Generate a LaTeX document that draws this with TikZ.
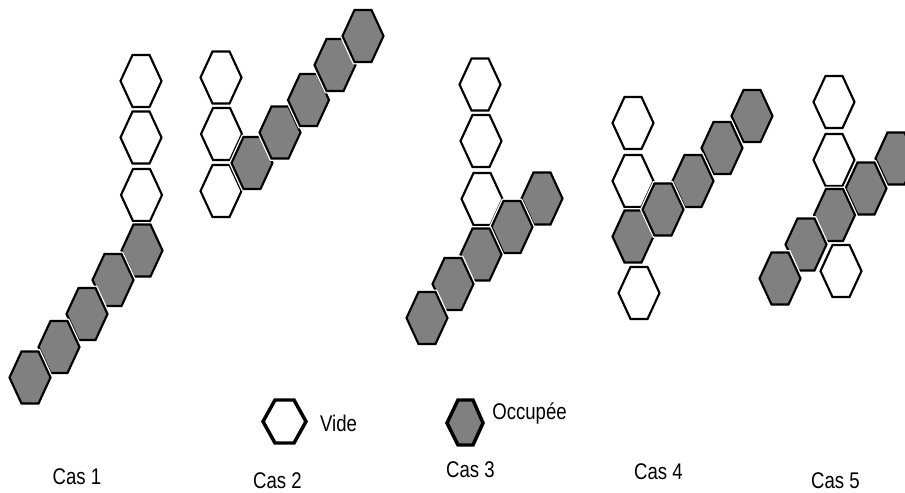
\documentclass[tikz,border=0pt]{standalone}
\usepackage{fontspec}
\setmainfont{Liberation Sans}
\newfontfamily\casfont[FakeStretch=0.82]{Liberation Sans}
\definecolor{occupee}{gray}{0.5}
\tikzset{
  cellule/.style={line width=1.6pt, line join=miter,
    preaction={draw=white, line width=3.6pt}},
  vide/.pic={\draw[cellule, fill=white]
    (-20.5,0) -- (-8.5,-26) -- (8.5,-26) -- (20.5,0) -- (8.5,26) -- (-8.5,26) -- cycle;},
  occ/.pic={\draw[cellule, fill=occupee]
    (-20.5,0) -- (-8.5,-26) -- (8.5,-26) -- (20.5,0) -- (8.5,26) -- (-8.5,26) -- cycle;},
  legende/.style={line width=2.6pt, line join=miter},
  etiquette/.style={font=\casfont\fontsize{17pt}{19pt}\selectfont, inner sep=0pt, anchor=base}
}
\begin{document}
\begin{tikzpicture}[x=0.75pt, y=-0.75pt]
      \useasboundingbox (0,0) rectangle (905,492);
      \clip (0,0) rectangle (905,492);
      % Cas 1
      \pic at (141,81) {vide};
      \pic at (141,137.5) {vide};
      \pic at (141.5,195) {vide};
      \pic at (142,250.5) {occ};
      \pic at (113,280) {occ};
      \pic at (87,314) {occ};
      \pic at (59,347) {occ};
      \pic at (30,377.5) {occ};
      % Cas 2
      \pic at (221,77.5) {vide};
      \pic at (221.5,134) {vide};
      \pic at (221,191) {vide};
      \pic at (252,163) {occ};
      \pic at (280,132.5) {occ};
      \pic at (308.5,100) {occ};
      \pic at (335,65) {occ};
      \pic at (363,36) {occ};
      % Cas 3
      \pic at (480,84.5) {vide};
      \pic at (481,141) {vide};
      \pic at (482,199) {vide};
      \pic at (542,198.5) {occ};
      \pic at (512,227) {occ};
      \pic at (481,254.5) {occ};
      \pic at (453,284) {occ};
      \pic at (427,318) {occ};
      % Cas 4
      \pic at (633,123) {vide};
      \pic at (633,181) {vide};
      \pic at (639,293) {vide};
      \pic at (633,236.5) {occ};
      \pic at (752,116) {occ};
      \pic at (722,148) {occ};
      \pic at (693,181) {occ};
      \pic at (663,209.5) {occ};
      % Cas 5
      \pic at (834,102) {vide};
      \pic at (834,160) {vide};
      \pic at (841,271) {vide};
      \pic at (896,158.5) {occ};
      \pic at (866,188.5) {occ};
      \pic at (834.5,215) {occ};
      \pic at (806,244.5) {occ};
      \pic at (780,278.5) {occ};
      % legende
      \draw[legende, fill=white]
        (263,421.5) -- (275,400) -- (294,400) -- (306,421.5) -- (294,443) -- (275,443) -- cycle;
      \draw[legende, fill=occupee]
        (447,423) -- (458,400) -- (473,400) -- (483,423) -- (473,445) -- (458,445) -- cycle;
      \node[etiquette] (vide) at (338.5,431) {Vide};
      \node[etiquette] (occupee) at (529.5,419) {Occupée};
      \node[etiquette] (cas1) at (77,484) {Cas 1};
      \node[etiquette] (cas2) at (277.5,488.5) {Cas 2};
      \node[etiquette] (cas3) at (470.5,477.5) {Cas 3};
      \node[etiquette] (cas4) at (658.5,479.5) {Cas 4};
      \node[etiquette] (cas5) at (835.5,488.5) {Cas 5};
    \end{tikzpicture}
\end{document}
